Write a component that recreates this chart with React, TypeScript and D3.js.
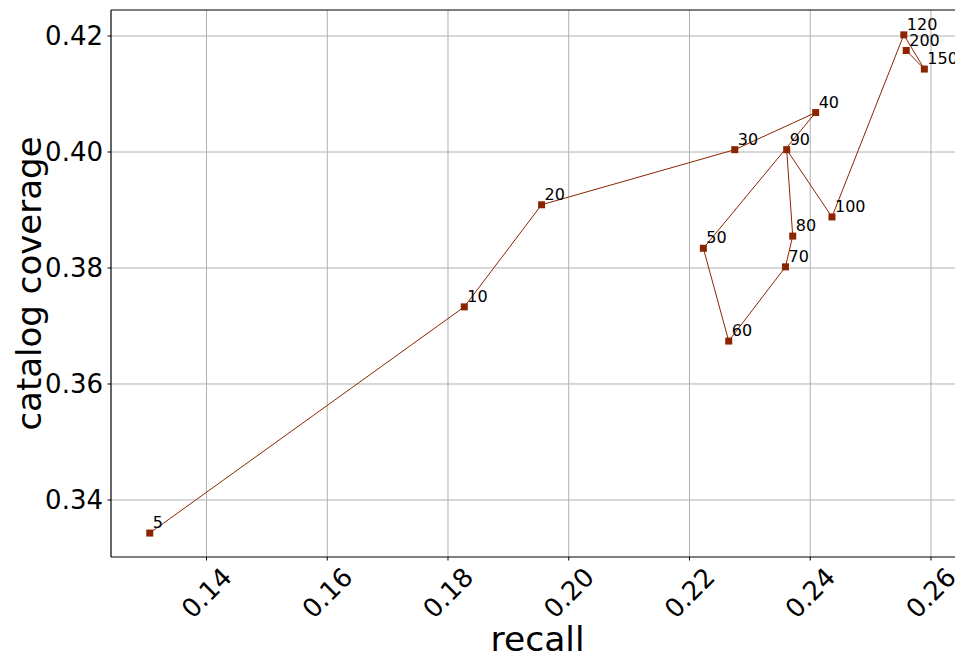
import React from "react";
import * as d3 from "d3";

const kLabels = ["5", "10", "20", "30", "40", "50", "60", "70", "80", "90", "100", "120", "150", "200"];
const recall = [0.1306, 0.1827, 0.1955, 0.2275, 0.2409, 0.2223, 0.2265, 0.2359, 0.2371, 0.2361, 0.2436, 0.2555, 0.2589, 0.2559];
const coverage = [0.3343, 0.3733, 0.3909, 0.4004, 0.4068, 0.3834, 0.3674, 0.3802, 0.3855, 0.4004, 0.3888, 0.4202, 0.4143, 0.4175];
const xTicks = [0.14, 0.16, 0.18, 0.2, 0.22, 0.24, 0.26];
const yTicks = [0.34, 0.36, 0.38, 0.4, 0.42];

const W = 955;
const H = 654;
const left = 111, right = 964, top = 10, bottom = 557;
const color = "#8b2500";
const font = "DejaVu Sans, sans-serif";

export default function App() {
  const x = d3.scaleLinear().domain([0.12418, 0.26547]).range([left, right]);
  const y = d3.scaleLinear().domain([0.330172, 0.424483]).range([bottom, top]);
  const pts = recall.map((r, i) => ({ r, c: coverage[i], k: kLabels[i] }));
  const line = d3.line<any>().x((d) => x(d.r)).y((d) => y(d.c));
  return (
    <svg width={W} height={H} style={{ position: "absolute", left: 0, top: 0, background: "#fff" }} fontFamily={font}>
      <rect x={0} y={0} width={W} height={H} fill="#fff" />
      {xTicks.map((t) => (
        <line key={"gx" + t} x1={x(t)} x2={x(t)} y1={top} y2={bottom} stroke="#b0b0b0" strokeWidth={1} />
      ))}
      {yTicks.map((t) => (
        <line key={"gy" + t} x1={left} x2={right} y1={y(t)} y2={y(t)} stroke="#b0b0b0" strokeWidth={1} />
      ))}
      <path d={line(pts) || ""} fill="none" stroke={color} strokeWidth={1} />
      {pts.map((p) => (
        <rect key={"m" + p.k} x={x(p.r) - 3.5} y={y(p.c) - 3.5} width={7} height={7} fill={color} />
      ))}
      {pts.map((p) => (
        <text key={"t" + p.k} x={x(p.r) + 3} y={y(p.c) - 5} fontSize={16} fill="#000">
          {p.k}
        </text>
      ))}
      <line x1={left} x2={left} y1={top} y2={bottom} stroke="#000" strokeWidth={1.2} />
      <line x1={left} x2={right} y1={bottom} y2={bottom} stroke="#000" strokeWidth={1.2} />
      <line x1={left} x2={right} y1={top} y2={top} stroke="#000" strokeWidth={1.2} />
      <line x1={right} x2={right} y1={top} y2={bottom} stroke="#000" strokeWidth={1.2} />
      {xTicks.map((t) => (
        <g key={"xt" + t}>
          <line x1={x(t)} x2={x(t)} y1={bottom} y2={bottom + 3.5} stroke="#000" />
          <text
            transform={`translate(${x(t)},${bottom + 36}) rotate(-45)`}
            textAnchor="middle"
            dominantBaseline="central"
            fontSize={26}
            fill="#000"
          >
            {d3.format(".2f")(t)}
          </text>
        </g>
      ))}
      {yTicks.map((t) => (
        <g key={"yt" + t}>
          <line x1={left - 3.5} x2={left} y1={y(t)} y2={y(t)} stroke="#000" />
          <text x={left - 8} y={y(t)} textAnchor="end" dominantBaseline="central" fontSize={26} fill="#000">
            {d3.format(".2f")(t)}
          </text>
        </g>
      ))}
      <text x={(left + right) / 2} y={651} textAnchor="middle" fontSize={34.5} fill="#000">
        recall
      </text>
      <text
        transform={`translate(${29},${(top + bottom) / 2}) rotate(-90)`}
        textAnchor="middle"
        dominantBaseline="central"
        fontSize={34}
        fill="#000"
      >
        catalog coverage
      </text>
    </svg>
  );
}
